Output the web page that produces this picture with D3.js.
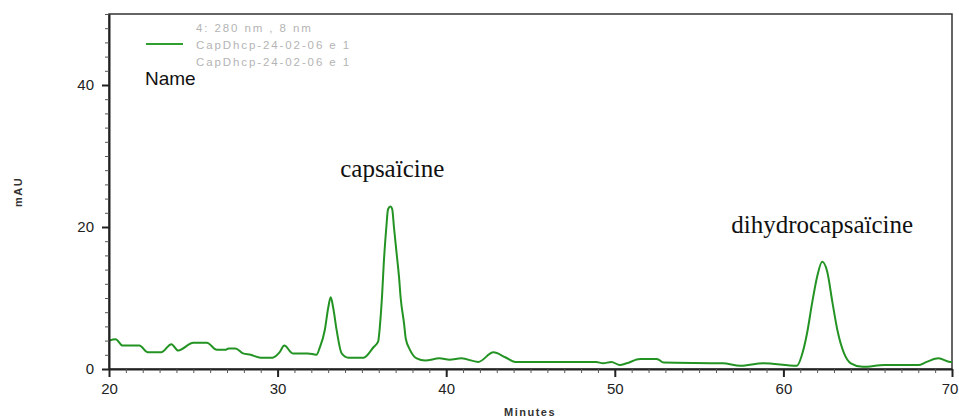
<!DOCTYPE html>
<html>
<head>
<meta charset="utf-8">
<script src="https://cdn.jsdelivr.net/npm/d3@7"></script>
<style>
  html, body { margin: 0; padding: 0; background: #fff; }
  svg { display: block; }
</style>
</head>
<body>
<svg id="chart" width="959" height="417"></svg>
<script>
// retention time (minutes) and absorbance (mAU)
const minutes = [20.0, 20.4, 20.8, 21.8, 22.3, 23.1, 23.7, 24.1, 25.0, 25.8, 26.4, 26.9, 27.1, 27.5,
  27.95, 28.4, 29.0, 29.7, 30.1, 30.4, 30.9, 31.8, 32.3, 32.5, 32.8, 33.0, 33.15, 33.3, 33.5, 33.8, 34.2, 35.1,
  35.7, 35.96, 36.1, 36.2, 36.3, 36.45, 36.55, 36.7, 36.8, 36.9, 37.05, 37.2, 37.3, 37.5, 37.6, 37.85,
  38.25, 38.75, 39.6, 40.2, 40.9, 41.9,
  42.8, 43.5, 44.1, 48.9, 49.3, 49.8, 50.3, 50.7, 51.5, 52.5, 52.9, 56.4, 57.45, 58.8, 60.8,
  61.1, 61.4, 61.7, 62.0, 62.3, 62.6, 62.9, 63.2, 63.6, 64.0, 64.7, 66.0, 68.0, 68.5, 69.2, 69.9, 70.0];
const mau = [4.0, 4.2, 3.3, 3.3, 2.35, 2.35, 3.5, 2.6, 3.7, 3.7, 2.7, 2.7, 2.9, 2.9,
  2.2, 2.0, 1.6, 1.6, 2.3, 3.3, 2.2, 2.2, 2.0, 3.0, 5.5, 8.6, 10.1, 8.6, 5.5, 2.2, 1.6, 1.6,
  3.1, 3.85, 7.0, 10.5, 15.0, 20.0, 22.5, 22.9, 22.5, 20.0, 16.5, 13.0, 10.0, 6.4, 4.3, 2.7,
  1.5, 1.2, 1.5, 1.3, 1.5, 1.0,
  2.35, 1.65, 1.0, 1.0, 0.8, 1.0, 0.55, 0.8, 1.4, 1.4, 0.9, 0.8, 0.45, 0.8, 0.45,
  2.0, 5.0, 9.25, 13.0, 15.1, 13.7, 9.5, 5.5, 2.2, 0.8, 0.3, 0.55, 0.55, 1.0, 1.5, 1.0, 1.0];

const xMajorTicks = [20, 30, 40, 50, 60, 70];
const yMajorTicks = [0, 20, 40];

const legendLines = ["4: 280 nm , 8 nm", "CapDhcp-24-02-06 e 1", "CapDhcp-24-02-06 e 1"];
const peakNames = ["capsaïcine", "dihydrocapsaïcine"];
const peakLabelPos = [[36.8, 27.0], [62.3, 19.2]];

const svg = d3.select("#chart");
const margin = {top: 14, right: 7, bottom: 48, left: 109};
const W = 959, H = 417;
const plotW = W - margin.left - margin.right;
const plotH = H - margin.top - margin.bottom;

const x = d3.scaleLinear().domain([20, 70]).range([margin.left, margin.left + plotW]);
const y = d3.scaleLinear().domain([0, 50]).range([margin.top + plotH, margin.top]);

const data = minutes.map((m, i) => ({m: m, v: mau[i]}));

// frame (top and right)
svg.append("rect")
  .attr("x", x(20)).attr("y", y(50))
  .attr("width", x(70) - x(20)).attr("height", y(0) - y(50))
  .attr("fill", "none").attr("stroke", "#333").attr("stroke-width", 1.5);

// trace
const line = d3.line().x(d => x(d.m)).y(d => y(d.v)).curve(d3.curveMonotoneX);
svg.append("path")
  .datum(data)
  .attr("fill", "none")
  .attr("stroke", "#239323")
  .attr("stroke-width", 2)
  .attr("stroke-linejoin", "round")
  .attr("d", line);

const font = "Arial, Liberation Sans, sans-serif";

// x axis: minor ticks every minute, labels every 10
const xAxis = svg.append("g").attr("transform", `translate(0,${y(0)})`);
xAxis.call(d3.axisBottom(x).ticks(50).tickSize(4).tickFormat("").tickSizeOuter(0))
  .call(g => g.select(".domain").attr("stroke", "#222").attr("stroke-width", 2));
xAxis.selectAll(".tick line").attr("stroke", "#555");
const xMaj = svg.append("g").attr("transform", `translate(0,${y(0)})`)
  .call(d3.axisBottom(x).tickValues(xMajorTicks).tickSize(8).tickSizeOuter(0).tickPadding(6));
xMaj.select(".domain").remove();
xMaj.selectAll(".tick line").attr("stroke", "#222").attr("stroke-width", 2);
xMaj.selectAll("text").attr("font-family", font).attr("font-size", 15).attr("fill", "#222")
  .attr("dx", d => d === 70 ? -2.5 : 0);  // keep the last label inside the window

// y axis: minor ticks every 2 mAU
const yAxis = svg.append("g").attr("transform", `translate(${x(20)},0)`);
yAxis.call(d3.axisLeft(y).ticks(25).tickSize(4).tickFormat("").tickSizeOuter(0))
  .call(g => g.select(".domain").attr("stroke", "#222").attr("stroke-width", 2));
yAxis.selectAll(".tick line").attr("stroke", "#555");
const yMaj = svg.append("g").attr("transform", `translate(${x(20)},0)`)
  .call(d3.axisLeft(y).tickValues(yMajorTicks).tickSize(7).tickSizeOuter(0).tickPadding(8));
yMaj.select(".domain").remove();
yMaj.selectAll(".tick line").attr("stroke", "#222").attr("stroke-width", 2);
yMaj.selectAll("text").attr("font-family", font).attr("font-size", 15).attr("fill", "#222");

// axis titles
svg.append("text")
  .attr("transform", `translate(22,192) rotate(-90)`)
  .attr("text-anchor", "middle")
  .attr("font-family", font)
  .attr("font-size", 11).attr("font-weight", "bold").attr("letter-spacing", 1.5).attr("fill", "#333")
  .text("mAU");
svg.append("text")
  .attr("x", 530).attr("y", 416)
  .attr("text-anchor", "middle")
  .attr("font-family", font)
  .attr("font-size", 11).attr("font-weight", "bold").attr("letter-spacing", 1.5).attr("fill", "#333")
  .text("Minutes");

// legend
svg.append("line")
  .attr("x1", 146).attr("x2", 183).attr("y1", 44).attr("y2", 44)
  .attr("stroke", "#2f9f2f").attr("stroke-width", 2);
svg.selectAll(".legend")
  .data(legendLines)
  .enter().append("text")
  .attr("x", 196).attr("y", (d, i) => 32 + i * 17)
  .attr("font-family", font)
  .attr("font-size", 11.5).attr("letter-spacing", 1.9).attr("fill", "#b4b4b4")
  .text(d => d);
svg.append("text")
  .attr("x", 145).attr("y", 85)
  .attr("font-family", font)
  .attr("font-size", 19).attr("fill", "#111")
  .text("Name");

// peak labels
svg.selectAll(".peak")
  .data(peakNames)
  .enter().append("text")
  .attr("x", (d, i) => x(peakLabelPos[i][0]))
  .attr("y", (d, i) => y(peakLabelPos[i][1]))
  .attr("text-anchor", "middle")
  .attr("font-family", "Liberation Serif, Times New Roman, serif")
  .attr("font-size", 25).attr("fill", "#111")
  .text(d => d);
</script>
</body>
</html>
